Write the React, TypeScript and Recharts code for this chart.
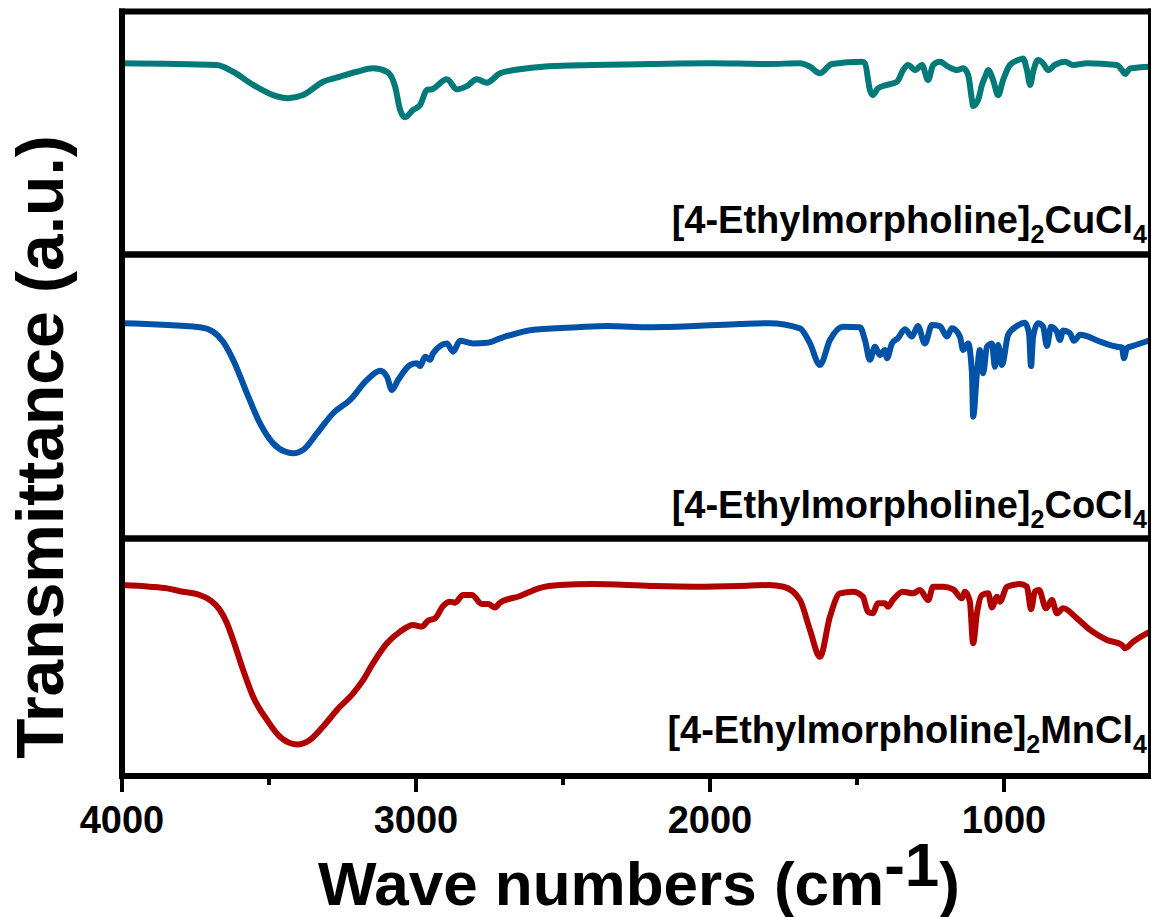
import React from 'react';
import { LineChart, Line, XAxis, YAxis } from 'recharts';

// wavenumber (cm-1), transmittance (a.u., 0-100 within each panel)
const cuSpectrum: [number, number][] = [
  [4000, 78.7], [3678, 78.0], [3622, 75.2], [3554, 69.8], [3486, 65.6], [3435, 64.3], [3384, 65.6],
  [3316, 71.1], [3258, 73.2], [3201, 75.2], [3146, 76.6], [3099, 75.2], [3071, 69.1], [3054, 59.5],
  [3037, 56.5], [3010, 59.5], [2986, 61.5], [2963, 67.7], [2946, 68.0], [2895, 72.1], [2861, 68.0],
  [2827, 69.3], [2793, 72.1], [2759, 70.7], [2714, 74.6], [2660, 76.0], [2550, 77.5], [2400, 78.0],
  [2200, 78.4], [2000, 78.7], [1800, 78.4], [1694, 78.7], [1660, 77.3], [1626, 74.6], [1585, 78.4],
  [1483, 79.3], [1473, 78.7], [1456, 67.7], [1446, 65.6], [1429, 68.4], [1398, 69.8], [1364, 71.1],
  [1343, 75.9], [1326, 78.0], [1302, 75.9], [1279, 78.0], [1258, 71.8], [1241, 78.0], [1218, 79.3],
  [1190, 77.3], [1160, 75.9], [1139, 76.6], [1122, 73.9], [1109, 63.6], [1105, 61.1], [1088, 63.6],
  [1075, 69.8], [1064, 73.2], [1054, 75.9], [1037, 71.8], [1020, 65.6], [1003, 71.8], [980, 78.0],
  [952, 80.0], [935, 80.7], [922, 75.9], [911, 69.8], [901, 75.2], [884, 80.0], [867, 78.7],
  [850, 75.9], [827, 78.0], [793, 79.3], [765, 78.0], [718, 78.7], [616, 78.0], [599, 75.9],
  [588, 74.3], [571, 76.6], [503, 77.3],
];

const coSpectrum: [number, number][] = [
  [4000, 75.8], [3735, 74.4], [3690, 72.8], [3656, 69.3], [3622, 62.9], [3575, 51.1], [3531, 40.6],
  [3486, 33.5], [3446, 30.6], [3418, 30.0], [3384, 31.2], [3337, 37.0], [3282, 44.1], [3224, 48.8],
  [3167, 55.8], [3122, 59.1], [3099, 57.0], [3082, 52.3], [3061, 55.8], [3020, 61.1], [2997, 61.7],
  [2986, 60.7], [2969, 64.0], [2952, 62.9], [2942, 65.2], [2895, 68.7], [2874, 65.8], [2850, 69.6],
  [2806, 68.7], [2759, 68.9], [2714, 70.5], [2600, 73.5], [2450, 74.4], [2350, 74.8], [2200, 74.4],
  [2050, 74.8], [1900, 75.5], [1800, 75.8], [1694, 74.0], [1660, 68.7], [1626, 61.1], [1592, 69.9],
  [1548, 74.6], [1490, 74.4], [1473, 69.9], [1456, 62.9], [1439, 67.5], [1422, 64.6], [1405, 66.4],
  [1398, 63.5], [1381, 68.7], [1361, 70.5], [1337, 73.7], [1313, 71.1], [1293, 74.8], [1269, 68.7],
  [1245, 75.2], [1218, 74.8], [1194, 71.1], [1177, 74.0], [1150, 71.1], [1139, 66.4], [1122, 68.7],
  [1109, 58.2], [1105, 42.9], [1092, 58.2], [1082, 66.4], [1071, 58.2], [1058, 67.5], [1041, 68.7],
  [1031, 60.5], [1020, 68.1], [1007, 61.1], [986, 71.7], [956, 74.8], [929, 76.0], [915, 72.3],
  [908, 60.7], [901, 71.1], [884, 75.8], [867, 74.6], [854, 67.8], [840, 74.6], [820, 72.8],
  [810, 69.9], [799, 73.2], [776, 72.3], [762, 69.6], [741, 71.7], [673, 69.3], [616, 67.5],
  [599, 67.3], [592, 63.5], [582, 67.1], [561, 67.8], [503, 69.9],
];

const mnSpectrum: [number, number][] = [
  [4000, 80.4], [3905, 79.7], [3847, 79.0], [3793, 77.6], [3745, 76.6], [3701, 74.1], [3667, 69.9],
  [3643, 64.3], [3622, 57.3], [3588, 44.6], [3554, 33.4], [3507, 23.6], [3463, 16.5], [3405, 13.3],
  [3361, 15.2], [3316, 20.8], [3269, 27.8], [3214, 34.8], [3180, 40.4], [3146, 47.5], [3099, 55.9],
  [3054, 60.8], [3010, 63.6], [2980, 62.9], [2959, 65.4], [2935, 66.4], [2908, 71.6], [2884, 73.4],
  [2867, 73.0], [2840, 76.2], [2810, 76.2], [2776, 72.4], [2755, 72.4], [2731, 71.0], [2714, 73.0],
  [2646, 75.8], [2578, 79.2], [2510, 80.4], [2400, 80.8], [2200, 80.0], [2050, 79.7], [1900, 80.0],
  [1800, 80.4], [1750, 79.7], [1694, 74.1], [1660, 61.5], [1626, 50.2], [1592, 67.1], [1558, 76.9],
  [1514, 77.6], [1480, 75.5], [1463, 69.2], [1446, 68.5], [1429, 72.7], [1405, 72.7], [1395, 71.3],
  [1378, 74.1], [1344, 77.6], [1310, 76.9], [1286, 78.3], [1258, 74.1], [1241, 79.7], [1207, 79.7],
  [1173, 78.6], [1143, 74.8], [1133, 77.6], [1116, 73.4], [1105, 55.9], [1092, 68.5], [1075, 76.2],
  [1054, 76.9], [1041, 71.0], [1024, 75.5], [1014, 73.4], [990, 79.7], [946, 80.8], [922, 79.7],
  [908, 70.2], [895, 77.6], [881, 78.3], [857, 70.6], [837, 74.1], [820, 68.5], [799, 70.6],
  [752, 66.4], [707, 61.5], [650, 57.3], [599, 55.2], [588, 53.8], [561, 56.5], [503, 60.8],
];

const xTicks = [4000, 3500, 3000, 2500, 2000, 1500, 1000];
const xMajorTicks = [4000, 3000, 2000, 1000];
const xDomain: [number, number] = [500, 4000];
const yDomain: [number, number] = [0, 100];
const cuYTicks = [31.4, 60.7, 90.3];
const coYTicks = [25.9, 51.2, 76.2];
const mnYTicks = [10.1, 40.4, 70.7];

const FONT = '"Liberation Sans", Arial, Helvetica, sans-serif';
const AXIS_LINE = { stroke: '#000', strokeWidth: 6, strokeLinecap: 'square' as const };
const MINOR_TICK = { stroke: '#000', strokeWidth: 2.5 };

const toRows = (s: [number, number][]) => s.map(([w, t]) => ({ w, t }));

const XTick = (props: any) => {
  const { x, y, payload } = props;
  const major = xMajorTicks.includes(payload.value);
  return (
    <g>
      <line x1={x} x2={x} y1={y} y2={y + (major ? 16 : 9)} stroke="#000" strokeWidth={4} />
      {major && (
        <text x={x} y={y + 57} textAnchor="middle" fontFamily={FONT} fontWeight="bold" fontSize={38} fill="#000">
          {payload.value}
        </text>
      )}
    </g>
  );
};

type PanelProps = {
  data: [number, number][];
  yTicks: number[];
  color: string;
  top: number;
  height: number;
  marginTop: number;
  marginBottom: number;
  showAxis?: boolean;
};

const Panel = ({ data, yTicks, color, top, height, marginTop, marginBottom, showAxis }: PanelProps) => (
  <div style={{ position: 'absolute', left: 0, top }}>
    <LineChart
      width={1152}
      height={height}
      data={toRows(data)}
      margin={{ top: marginTop, right: 1, bottom: marginBottom, left: 122 }}
    >
      {showAxis ? (
        <XAxis
          dataKey="w"
          type="number"
          domain={xDomain}
          reversed
          allowDataOverflow
          ticks={xTicks}
          height={141}
          axisLine={AXIS_LINE}
          tickLine={false}
          tickSize={0}
          tickMargin={0}
          tick={<XTick />}
          interval={0}
        />
      ) : (
        <XAxis
          dataKey="w"
          type="number"
          domain={xDomain}
          reversed
          allowDataOverflow
          ticks={xTicks}
          height={10}
          mirror
          axisLine={AXIS_LINE}
          tickLine={false}
          tick={false}
          interval={0}
        />
      )}
      <XAxis
        xAxisId="top"
        orientation="top"
        dataKey="w"
        type="number"
        domain={xDomain}
        reversed
        allowDataOverflow
        ticks={xTicks.slice(1)}
        height={10}
        mirror
        axisLine={AXIS_LINE}
        tickLine={MINOR_TICK}
        tickSize={5}
        tick={false}
        interval={0}
      />
      <YAxis
        type="number"
        domain={yDomain}
        allowDataOverflow
        width={10}
        mirror
        ticks={yTicks}
        axisLine={AXIS_LINE}
        tickLine={MINOR_TICK}
        tickSize={5}
        tick={false}
        interval={0}
      />
      <YAxis
        yAxisId="right"
        orientation="right"
        type="number"
        domain={yDomain}
        allowDataOverflow
        width={10}
        mirror
        ticks={yTicks}
        axisLine={AXIS_LINE}
        tickLine={MINOR_TICK}
        tickSize={5}
        tick={false}
        interval={0}
      />
      <Line
        type="monotone"
        dataKey="t"
        stroke={color}
        strokeWidth={6}
        dot={false}
        activeDot={false}
        isAnimationActive={false}
        strokeLinejoin="round"
        strokeLinecap="round"
      />
    </LineChart>
  </div>
);

const PanelLabel = ({ x, y, metal }: { x: number; y: number; metal: string }) => (
  <text x={x} y={y} textAnchor="end" fontFamily={FONT} fontWeight="bold" fontSize={38} fill="#000">
    [4-Ethylmorpholine]
    <tspan dy={10} fontSize={25}>2</tspan>
    <tspan dy={-10}>{metal}Cl</tspan>
    <tspan dy={10} fontSize={25}>4</tspan>
  </text>
);

export default function App() {
  return (
    <div style={{ position: 'absolute', left: 0, top: 0, width: 1151, height: 917, background: '#fff', overflow: 'hidden' }}>
      <Panel data={cuSpectrum} yTicks={cuYTicks} color="#007A78" top={0} height={260} marginTop={11.5} marginBottom={5.5} />
      <Panel data={coSpectrum} yTicks={coYTicks} color="#0052A6" top={250} height={300} marginTop={4.5} marginBottom={11.5} />
      <Panel data={mnSpectrum} yTicks={mnYTicks} color="#B00000" top={530} height={387} marginTop={8.5} marginBottom={0} showAxis />
      <svg
        width={1151}
        height={917}
        style={{ position: 'absolute', left: 0, top: 0, pointerEvents: 'none' }}
      >
        <PanelLabel x={1147} y={233} metal="Cu" />
        <PanelLabel x={1147} y={518} metal="Co" />
        <PanelLabel x={1147} y={743} metal="Mn" />
        <text
          x={639}
          y={905}
          textAnchor="middle"
          fontFamily={FONT}
          fontWeight="bold"
          fontSize={62}
          fill="#000"
        >
          Wave numbers (cm<tspan dy={-19}>-1</tspan><tspan dy={19}>)</tspan>
        </text>
        <text
          transform="translate(63, 447) rotate(-90)"
          textAnchor="middle"
          fontFamily={FONT}
          fontWeight="bold"
          fontSize={66}
          fill="#000"
        >
          Transmittance (a.u.)
        </text>
      </svg>
    </div>
  );
}
